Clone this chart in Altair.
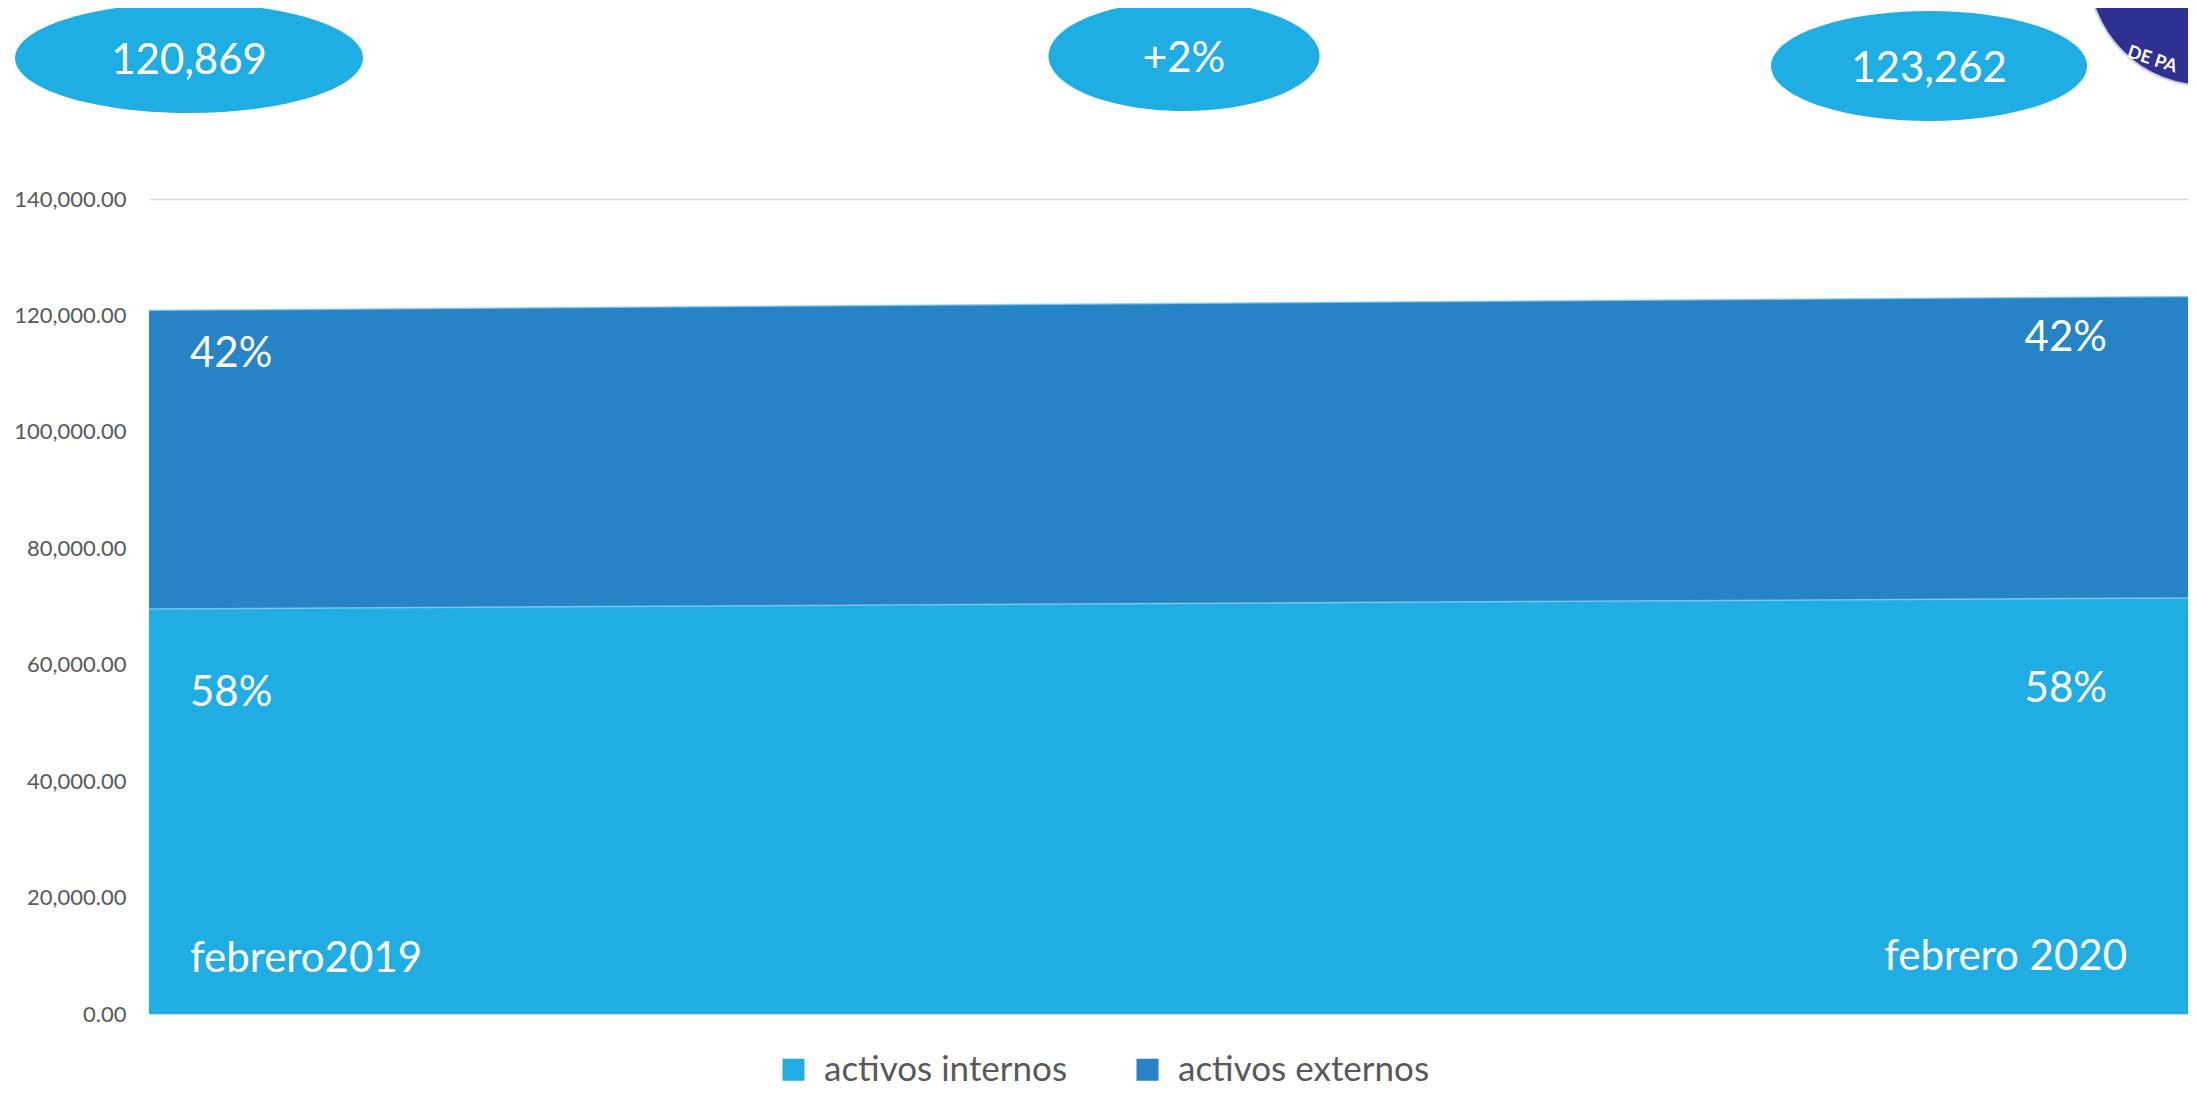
import altair as alt
import pandas as pd

# ---------------- data ----------------
periodos = ["febrero2019", "febrero 2020"]
internos = [69570, 71460]
externos = [51299, 51802]
totales = [120869, 123262]
series = ["activos internos", "activos externos"]
colores = ["#1FADE4", "#2683C6"]
y_ticks = [0, 20000, 40000, 60000, 80000, 100000, 120000, 140000]

# ---------------- layout ----------------
W, H = 2039, 815
PAD_L, PAD_T, PAD_B = 141, 191, 75
YMAX = 140000
FONT = "Lato"


def px_x(px):
    return (px - 8 - PAD_L) / W


def px_y(py):
    return (PAD_T + 8 + H - py) / H * YMAX


x_scale = alt.Scale(domain=[0, 1], nice=False, zero=False)
y_scale = alt.Scale(domain=[0, YMAX], nice=False)

# stacked area table
rows = []
for i, p in enumerate(periodos):
    rows.append({"x": i, "periodo": p, "serie": series[0], "valor": internos[i], "orden": 0})
    rows.append({"x": i, "periodo": p, "serie": series[1], "valor": externos[i], "orden": 1})
df = pd.DataFrame(rows)

area = alt.Chart(df).mark_area(opacity=1, clip=False).encode(
    x=alt.X("x:Q", scale=x_scale, axis=None),
    y=alt.Y(
        "valor:Q",
        stack="zero",
        scale=y_scale,
        title=None,
        axis=alt.Axis(values=y_ticks, format=",.2f"),
    ),
    color=alt.Color(
        "serie:N",
        scale=alt.Scale(domain=series, range=colores),
        sort=series,
        legend=alt.Legend(
            title=None,
            orient="none",
            direction="horizontal",
            legendX=627,
            legendY=853,
            symbolType="square",
            symbolSize=484,
            symbolStrokeWidth=0,
            labelFontSize=35,
            labelFont=FONT,
            labelColor="#595959",
            labelOffset=13,
            columnPadding=62,
            labelLimit=500,
        ),
    ),
    order=alt.Order("orden:Q"),
)

edges = alt.Chart(df).mark_line(color="#8ECBEF", strokeWidth=1.5, opacity=0.8).encode(
    x=alt.X("x:Q", scale=x_scale),
    y=alt.Y("valor:Q", stack="zero", scale=y_scale),
    detail="serie:N",
    order=alt.Order("orden:Q"),
)

# percentage / period labels
lab_rows = []
for i, p in enumerate(periodos):
    lab_rows.append({"x": i, "y": totales[i], "texto": f"{round(externos[i] / totales[i] * 100)}%", "tipo": "ext"})
    lab_rows.append({"x": i, "y": internos[i], "texto": f"{round(internos[i] / totales[i] * 100)}%", "tipo": "int"})
    lab_rows.append({"x": i, "y": 0, "texto": p, "tipo": "per"})
labs = pd.DataFrame(lab_rows)


def label_layer(side, tipo, dx, dy, align):
    return alt.Chart(labs).transform_filter(
        (alt.datum.x == side) & (alt.datum.tipo == tipo)
    ).mark_text(
        color="white", font=FONT, fontSize=42, align=align, baseline="alphabetic", dx=dx, dy=dy
    ).encode(
        x=alt.X("x:Q", scale=x_scale),
        y=alt.Y("y:Q", scale=y_scale),
        text="texto:N",
    )


labels = [
    label_layer(0, "ext", 41, 57, "left"),
    label_layer(0, "int", 41, 97, "left"),
    label_layer(0, "per", 41, -42, "left"),
    label_layer(1, "ext", -81, 55, "right"),
    label_layer(1, "int", -81, 104, "right"),
    label_layer(1, "per", -61, -44, "right"),
]

# top bubbles
def ellipse_path(w, h):
    r = h / w
    return f"M-1,0A1,{r:.4f},0,1,1,1,0A1,{r:.4f},0,1,1,-1,0Z"


cambio = round((totales[1] / totales[0] - 1) * 100)
burb = pd.DataFrame({
    "texto": [f"{totales[0]:,}", f"+{cambio}%", f"{totales[1]:,}"],
    "x": [px_x(189), px_x(1184), px_x(1929)],
    "y": [px_y(58), px_y(56), px_y(66)],
    "forma": [ellipse_path(348, 110), ellipse_path(271, 110), ellipse_path(316, 110)],
    "tam": [348 ** 2, 271 ** 2, 316 ** 2],
})

bubbles = alt.Chart(burb).mark_point(filled=True, opacity=1, fill="#1FAEE4", strokeWidth=0).encode(
    x=alt.X("x:Q", scale=x_scale),
    y=alt.Y("y:Q", scale=y_scale),
    shape=alt.Shape("forma:N", scale=None),
    size=alt.Size("tam:Q", scale=None),
)

bubble_text = alt.Chart(burb).mark_text(
    color="white", font=FONT, fontSize=42, align="center", baseline="alphabetic", dy=16
).encode(
    x=alt.X("x:Q", scale=x_scale),
    y=alt.Y("y:Q", scale=y_scale),
    text="texto:N",
)

# logo fragment (top-right)
logo = pd.DataFrame({"x": [px_x(2206)], "y": [px_y(-32)]})
logo_circle = alt.Chart(logo).mark_point(
    filled=True, shape="circle", size=236 ** 2, fill="#2E3192", opacity=1, stroke="#C9CCE8", strokeWidth=2
).encode(
    x=alt.X("x:Q", scale=x_scale),
    y=alt.Y("y:Q", scale=y_scale),
)
logo_text = alt.Chart(pd.DataFrame({"x": [px_x(2152)], "y": [px_y(60)], "texto": ["DE PA"]})).mark_text(
    color="white", font=FONT, fontSize=18, fontWeight="bold", angle=18, align="center", baseline="middle"
).encode(
    x=alt.X("x:Q", scale=x_scale),
    y=alt.Y("y:Q", scale=y_scale),
    text="texto:N",
)

chart = alt.layer(
    area, edges, *labels, bubbles, bubble_text, logo_circle, logo_text
).properties(
    width=W,
    height=H,
    autosize=alt.AutoSizeParams(type="none"),
    padding={"left": PAD_L, "top": PAD_T, "right": 0, "bottom": PAD_B},
).configure_view(
    stroke=None
).configure_axis(
    labelFont=FONT,
    labelFontSize=22,
    labelColor="#595959",
    labelPadding=23,
    grid=True,
    gridColor="#D9D9D9",
    gridWidth=1.3,
    domain=False,
    ticks=False,
)

chart.save("out.html", embed_options={"renderer": "svg", "actions": False})
